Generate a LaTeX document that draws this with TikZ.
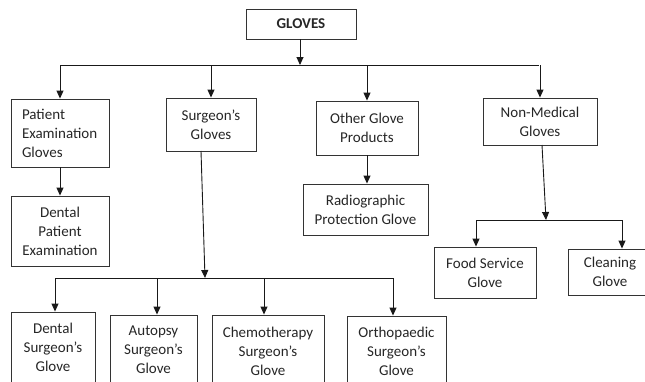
\documentclass[tikz,border=0pt]{standalone}
\usepackage{fontspec}
\setmainfont{Carlito}
\usetikzlibrary{arrows.meta}
\begin{document}
\begin{tikzpicture}[x=1pt,y=-1pt,
  box/.style={draw=black!80, line width=0.9pt, inner sep=0pt, align=center,
    font=\fontsize{15}{19}\selectfont, text=black!85},
  conn/.style={line width=0.9pt, draw=black!90},
  arr/.style={conn, -{Triangle[length=8pt,width=7pt]}}]
\useasboundingbox (0,0) rectangle (645,381);
\clip (0,0) rectangle (645,381);
% top
\node[box, minimum width=110pt, minimum height=30pt, font=\fontsize{15}{19}\selectfont\bfseries] (gloves) at (301,24) {GLOVES};
% level 1
\node[box, minimum width=98pt, minimum height=68pt, align=left, text width=76pt] (patient) at (60,133) {Patient\\Examination\\Gloves};
\node[box, minimum width=90pt, minimum height=53pt] (surgeon) at (211,124.5) {Surgeon’s\\Gloves};
\node[box, minimum width=102pt, minimum height=54pt] (other) at (367,128) {Other Glove\\Products};
\node[box, minimum width=114pt, minimum height=47pt] (nonmed) at (540,121.5) {Non-Medical\\Gloves};
% level 2
\node[box, minimum width=98pt, minimum height=70pt] (dentalpat) at (60,231) {Dental\\Patient\\Examination};
\node[box, minimum width=125pt, minimum height=51pt] (radio) at (365.5,209.5) {Radiographic\\Protection Glove};
\node[box, minimum width=102pt, minimum height=51pt] (food) at (485,272.5) {Food Service\\Glove};
\node[box, minimum width=84pt, minimum height=46pt] (cleaning) at (610,272) {Cleaning\\Glove};
% bottom
\node[box, minimum width=84pt, minimum height=70pt] (dentalsurg) at (53,347) {Dental\\Surgeon’s\\Glove};
\node[box, minimum width=87pt, minimum height=70pt] (autopsy) at (153.5,350) {Autopsy\\Surgeon’s\\Glove};
\node[box, minimum width=112pt, minimum height=72pt] (chemo) at (268,351) {Chemotherapy\\Surgeon’s\\Glove};
\node[box, minimum width=99pt, minimum height=70pt] (ortho) at (396.5,351) {Orthopaedic\\Surgeon’s\\Glove};
% bus coordinates
\coordinate (b1) at (300,65);
\coordinate (b1l) at (61,65);
\coordinate (b1r) at (539,65);
\coordinate (s1) at (201,151);
\coordinate (b2) at (205,278);
\coordinate (b2l) at (55,278);
\coordinate (b2r) at (393,278);
\coordinate (n1) at (542,145);
\coordinate (b3) at (546,220);
\coordinate (b3l) at (476,220);
\coordinate (b3r) at (622,220);
% connectors level 1
\draw[arr] (gloves.south -| b1) -- (b1);
\draw[conn] (b1l) -- (b1r);
\draw[arr] (patient.north |- b1) -- (patient.north);
\draw[arr] (surgeon.north |- b1) -- (surgeon.north);
\draw[arr] (other.north |- b1) -- (other.north);
\draw[arr] (nonmed.north |- b1) -- (nonmed.north);
% level 2
\draw[arr] (patient.south) -- (dentalpat.north);
\draw[arr] (other.south) -- (other.south |- radio.north);
% surgeon subtree
\draw[arr] (s1) -- (b2);
\draw[conn] (b2l) -- (b2r);
\draw[arr] (b2l) -- (b2l |- dentalsurg.north);
\draw[arr] ([xshift=3.5pt]autopsy.north |- b2) -- ([xshift=3.5pt]autopsy.north);
\draw[arr] ([xshift=-4pt]chemo.north |- b2) -- ([xshift=-4pt]chemo.north);
\draw[arr] (b2r) -- (b2r |- ortho.north);
% non-medical subtree
\draw[arr] (n1) -- (b3);
\draw[conn] (b3l) -- (b3r);
\draw[arr] (b3l) -- (b3l |- food.north);
\draw[arr] (b3r) -- (b3r |- cleaning.north);
\end{tikzpicture}
\end{document}
